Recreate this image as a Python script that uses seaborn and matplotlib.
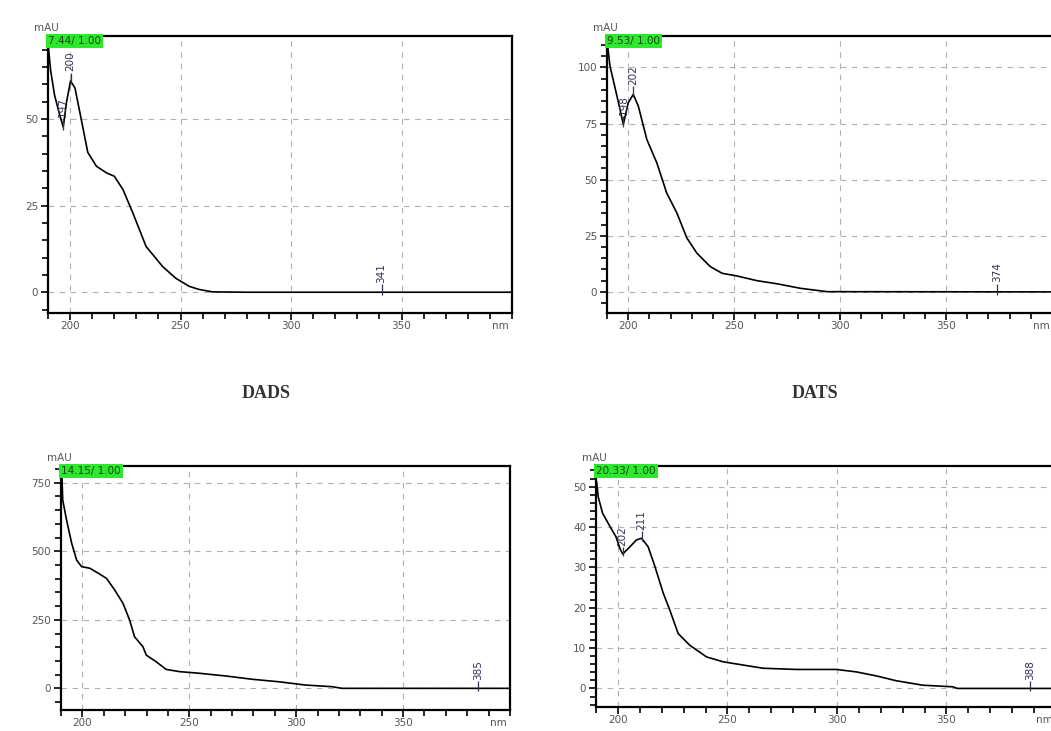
"""
plot.py - UV spectra of four peaks (DAD export style), 2x2 panels.
"""

import matplotlib.pyplot as plt
import numpy as np
import pandas as pd
import seaborn as sns
from matplotlib.ticker import MultipleLocator

# --- data --------------------------------------------------------------
wl_a = [190, 191.2, 193, 195.4, 196.9, 198.4, 200.2, 202.2, 204.4, 208, 211.9,
        216.4, 220, 223.9, 228.4, 234.4, 241.9, 247.9, 253.9, 258.4, 264.4, 280, 400]
abs_a = [72, 64, 56.8, 51, 47.7, 55, 61, 59, 52, 40.4, 36.4,
         34.5, 33.5, 29.7, 22.9, 13.2, 7.4, 4, 1.7, 0.8, 0.1, 0, 0]

wl_b = [190, 191.4, 193.8, 195.8, 197.7, 200, 202.4, 204.8, 208.8, 213.5, 218.2,
        223, 227.7, 232.4, 238.7, 244.3, 251.3, 260.8, 270.3, 281.3, 293.9, 400]
abs_b = [112, 100.6, 90.9, 82.7, 74.6, 84.2, 88, 82.7, 67.9, 57.5, 44,
         35.1, 24, 17.3, 11.3, 8.3, 7.1, 5, 3.6, 1.6, 0.1, 0]

wl_c = [190.3, 190.8, 192.6, 195, 197.3, 199.6, 203.5, 207.4, 211.3, 215.1, 219,
        222.1, 224.4, 228.3, 229.9, 234.5, 239.2, 245.4, 254.7, 267.1, 279.5,
        291.9, 304.4, 316.8, 321.4, 400]
abs_c = [808, 687, 614, 529, 468, 444, 438, 420, 401, 359, 310,
         249, 188, 152, 121, 97, 69, 61, 55, 45, 33,
         24, 12, 6, 0, 0]

wl_d = [190.3, 191, 193, 196.4, 199.1, 200.9, 202.2, 205.5, 208.5, 210.8, 213.8,
        216.9, 220.7, 223.7, 227.5, 232.8, 240.5, 248, 257.1, 266.3, 281.5,
        299.7, 308.8, 318, 327.1, 339.2, 352.9, 355, 400]
abs_d = [51.2, 47.5, 43.4, 40.1, 37.6, 34.7, 33.3, 35.1, 36.8, 37.2, 35.1,
         30.2, 23.6, 19.4, 13.6, 10.7, 7.8, 6.6, 5.8, 5, 4.7,
         4.7, 4.1, 3.1, 1.9, 0.8, 0.4, 0, 0]

tags = ["7.44/ 1.00", "9.53/ 1.00", "14.15/ 1.00", "20.33/ 1.00"]

# peak / valley labels (wavelength, label)
marks_a = [(196.9, "197"), (200.2, "200"), (341, "341")]
marks_b = [(197.7, "198"), (202.4, "202"), (374, "374")]
marks_c = [(385, "385")]
marks_d = [(202.2, "202"), (210.8, "211"), (388, "388")]

titles = ["DADS", "DATS"]

# --- layout ------------------------------------------------------------
W, H = 1051, 731
panels = [
    # data, limits, tick steps, axes rect in pixels (left, top, right, bottom)
    dict(wl=wl_a, ab=abs_a, marks=marks_a, ylim=(-6, 74), major=25, minor=5,
         px=(48, 36, 512, 313)),
    dict(wl=wl_b, ab=abs_b, marks=marks_b, ylim=(-9.4, 114), major=25, minor=5,
         px=(607, 36, 1052, 313)),
    dict(wl=wl_c, ab=abs_c, marks=marks_c, ylim=(-79, 811), major=250, minor=50,
         px=(61, 466, 510, 710)),
    dict(wl=wl_d, ab=abs_d, marks=marks_d, ylim=(-4.6, 55.1), major=10, minor=2,
         px=(596, 466, 1056, 707)),
]

sns.set_style("white")
plt.rcParams["font.family"] = ["DejaVu Sans"]

fig = plt.figure(figsize=(W / 100, H / 100), dpi=100)

for p, tag in zip(panels, tags):
    l, t, r, b = p["px"]
    ax = fig.add_axes([l / W, 1 - b / H, (r - l) / W, (b - t) / H])
    df = pd.DataFrame({"nm": p["wl"], "mAU": p["ab"]})
    sns.lineplot(data=df, x="nm", y="mAU", ax=ax, color="black", lw=1.2,
                 estimator=None, sort=False)
    ax.set_xlim(190, 400)
    ax.set_ylim(*p["ylim"])
    ax.set_xlabel("")
    ax.set_ylabel("")

    ax.xaxis.set_major_locator(MultipleLocator(50))
    ax.xaxis.set_minor_locator(MultipleLocator(10))
    ax.yaxis.set_major_locator(MultipleLocator(p["major"]))
    ax.yaxis.set_minor_locator(MultipleLocator(p["minor"]))
    ax.tick_params(which="both", direction="out", color="black", width=1.2,
                   labelsize=7.5, labelcolor="#555555", left=True, bottom=True)
    ax.tick_params(which="major", length=5)
    ax.tick_params(which="minor", length=4)
    ax.tick_params(axis="x", pad=1)
    ax.tick_params(axis="y", pad=2)
    xt = [v for v in range(200, 400, 50)]
    ax.set_xticks(xt)
    ax.set_xticklabels([str(v) for v in xt])

    ax.grid(True, which="major", color="#b0b0b0", linestyle=(0, (5, 5)), lw=0.8)
    for s in ax.spines.values():
        s.set_color("black")
        s.set_linewidth(1.6)

    ax.text(0.0, 1.0, tag, transform=ax.transAxes, ha="left", va="top",
            fontsize=7.5, color="#114411",
            bbox=dict(boxstyle="square,pad=0.2", facecolor="#2ee82e",
                      edgecolor="none"))
    ax.annotate("mAU", xy=(0, 1), xycoords="axes fraction", xytext=(-10, 2),
                textcoords="offset points", ha="left", va="bottom",
                fontsize=7.5, color="#555555")
    ax.annotate("nm", xy=(0.975, 0), xycoords="axes fraction", xytext=(0, -6),
                textcoords="offset points", ha="center", va="top",
                fontsize=7.5, color="#555555")

    # peak labels
    span = p["ylim"][1] - p["ylim"][0]
    wl_arr = np.array(p["wl"])
    ab_arr = np.array(p["ab"])
    for w, lab in p["marks"]:
        yv = float(np.interp(w, wl_arr, ab_arr))
        ax.vlines(w, yv - 0.01 * span, yv + 0.03 * span, color="#333355", lw=0.9)
        ax.text(w, yv + 0.035 * span, lab, rotation=90, ha="center",
                va="bottom", fontsize=7.5, color="#333355")

for i, name in enumerate(titles):
    fig.text([266 / W, 815 / W][i], 1 - 393 / H, name, ha="center",
             va="center", fontsize=13, fontweight="bold",
             family=["Liberation Serif"], color="#333333")

fig.savefig("out.png", dpi=100)
